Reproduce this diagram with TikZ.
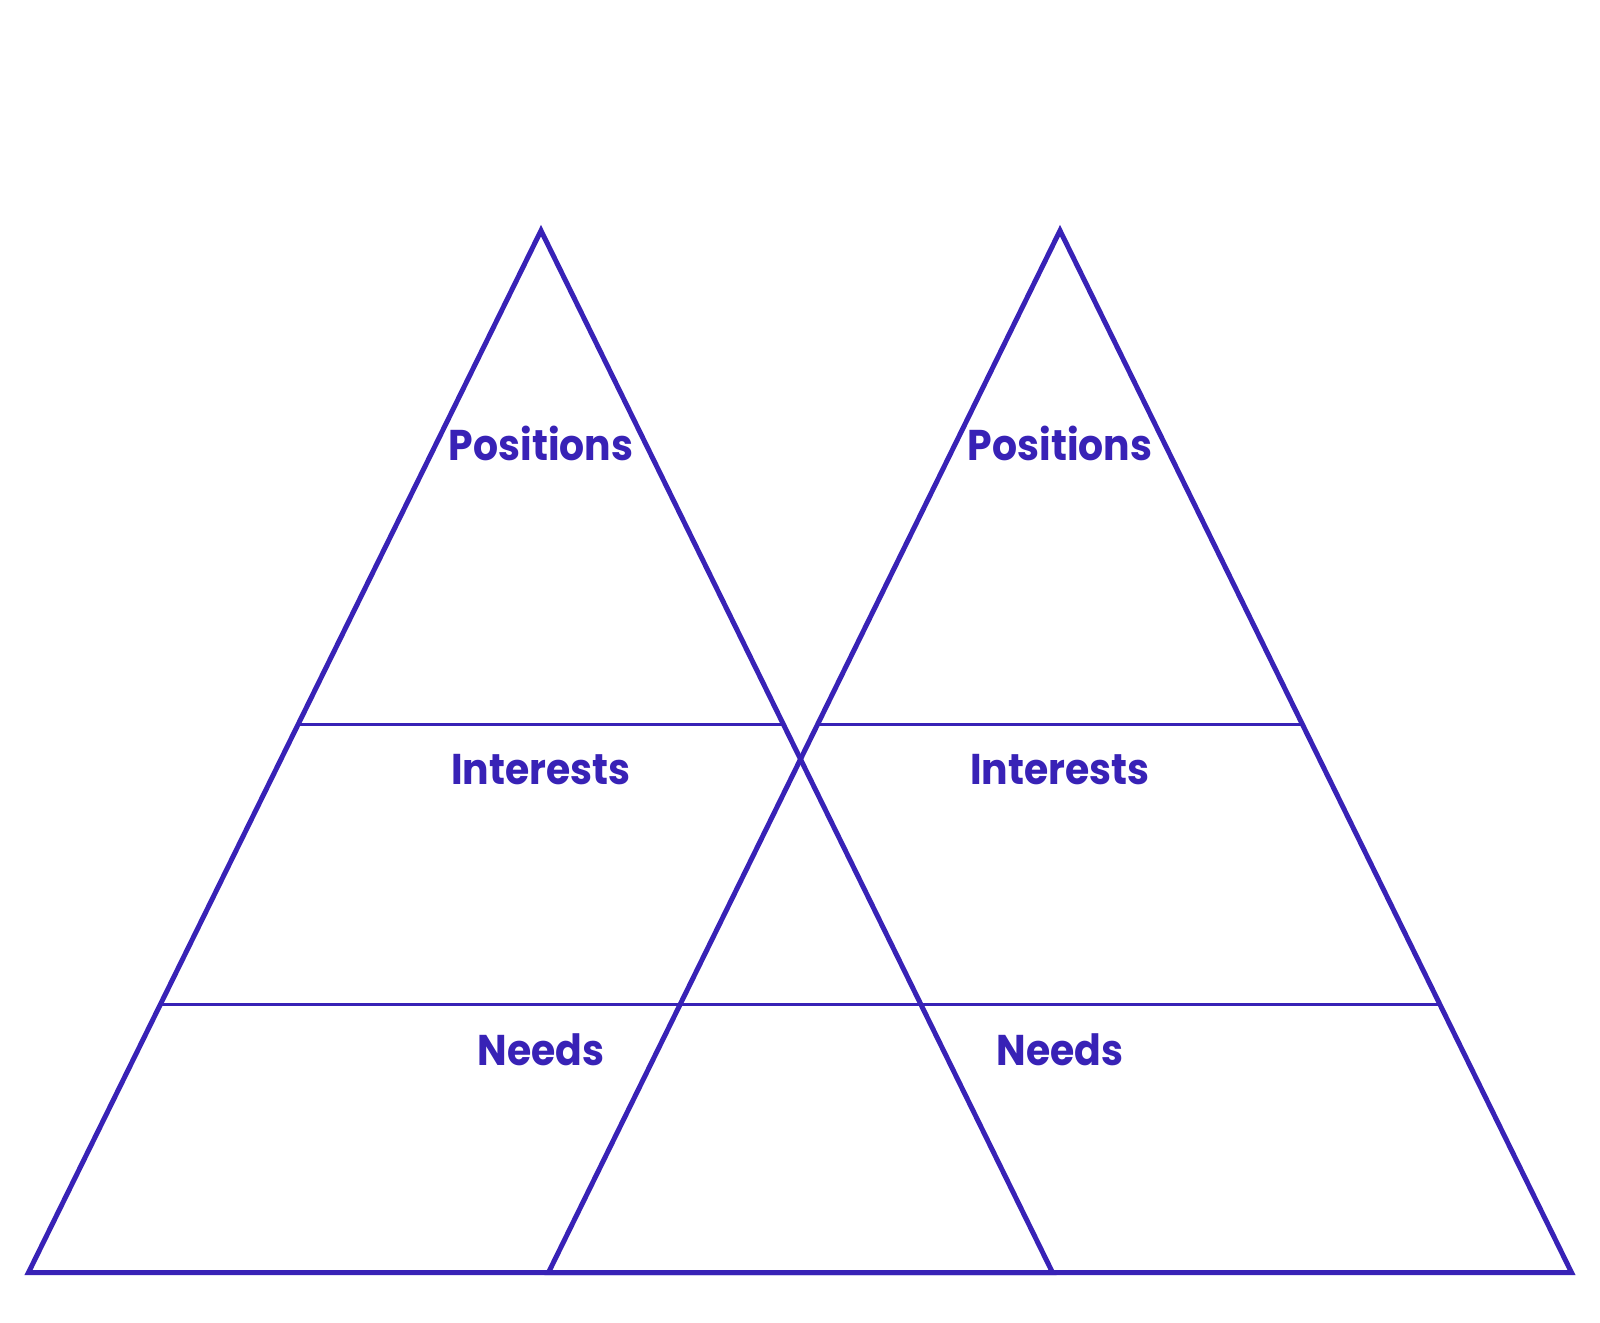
\documentclass[tikz,border=0pt]{standalone}
\usepackage{fontspec}
\setmainfont{Poppins}
\newfontfamily\lblfont[FakeStretch=0.915]{Poppins}
\usetikzlibrary{calc}
\definecolor{ink}{RGB}{56,34,182}
\tikzset{
  tri/.style={draw=ink, line width=5pt, line join=miter},
  band/.style={draw=ink, line width=3.5pt},
  lbl/.style={text=ink, font=\lblfont\fontsize{43}{48}\selectfont\bfseries, inner sep=0pt, anchor=base}
}
\begin{document}
\begin{tikzpicture}[x=1pt,y=-1pt]
\useasboundingbox (0,0) rectangle (1600,1322);
% left pyramid
\coordinate (LA) at (541,230.6);
\coordinate (LL) at (28.5,1272.5);
\coordinate (LR) at (1052.5,1272.5);
% right pyramid
\coordinate (RA) at (1060,230.6);
\coordinate (RL) at (548.5,1272.5);
\coordinate (RR) at (1571.5,1272.5);
% band lines
\foreach \p in {L,R}{
  \draw[band] ($(\p A)!0.474!(\p L)$) -- ($(\p A)!0.474!(\p R)$);
  \draw[band] ($(\p A)!0.743!(\p L)$) -- ($(\p A)!0.743!(\p R)$);
}
\draw[tri] (LA) -- (LL) -- (LR) -- cycle;
\draw[tri] (RA) -- (RL) -- (RR) -- cycle;
% labels
\node[lbl] (lpos) at (541,460) {Positions};
\node[lbl] (lint) at (541,784) {Interests};
\node[lbl] (lneed) at (541,1065) {Needs};
\node[lbl] (rpos) at (1060,460) {Positions};
\node[lbl] (rint) at (1060,784) {Interests};
\node[lbl] (rneed) at (1060,1065) {Needs};
\end{tikzpicture}
\end{document}
